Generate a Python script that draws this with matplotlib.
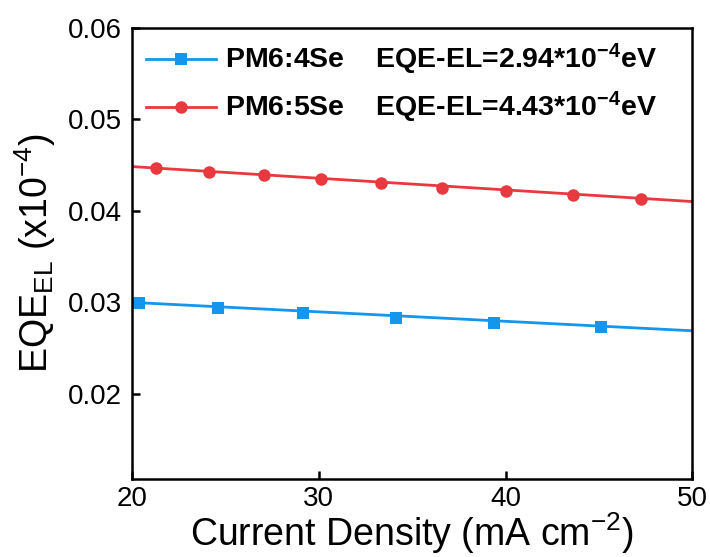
import matplotlib
matplotlib.use("Agg")
import matplotlib.pyplot as plt

plt.rcParams["font.family"] = ["Liberation Sans", "DejaVu Sans"]
plt.rcParams["mathtext.fontset"] = "custom"
plt.rcParams["mathtext.rm"] = "Liberation Sans"
plt.rcParams["mathtext.bf"] = "Liberation Sans:bold"
plt.rcParams["mathtext.it"] = "Liberation Sans:italic"

# PM6:4Se measured points
x_4se = [20.37, 24.6, 29.16, 34.14, 39.39, 45.12]
y_4se = [0.0299, 0.0294, 0.0288, 0.0283, 0.0278, 0.0273]
fit_x_4se = [20, 50]
fit_y_4se = [0.0300, 0.0269]

# PM6:5Se measured points
x_5se = [21.3, 24.1, 27.05, 30.1, 33.34, 36.6, 40.05, 43.62, 47.25]
y_5se = [0.04473, 0.04430, 0.04390, 0.04353, 0.04303, 0.04255, 0.04215,
         0.04172, 0.04131]
fit_x_5se = [20, 50]
fit_y_5se = [0.04484, 0.04102]

C_BLUE, C_RED = "#1496EC", "#E8393F"
LBL_4 = r"PM6:4Se    EQE-EL=2.94*10$^{\mathbf{-4}}$eV"
LBL_5 = r"PM6:5Se    EQE-EL=4.43*10$^{\mathbf{-4}}$eV"

fig = plt.figure(figsize=(7.1, 5.57), dpi=100)
ax = fig.add_axes([0.186, 0.140, 0.789, 0.810])

ax.plot(fit_x_4se, fit_y_4se, "-", color=C_BLUE, lw=2.0)
ax.plot(x_4se, y_4se, "s", color=C_BLUE, ms=8.5, mew=0)
ax.plot(fit_x_5se, fit_y_5se, "-", color=C_RED, lw=2.0)
ax.plot(x_5se, y_5se, "o", color=C_RED, ms=9, mew=0)

# legend proxies: line-marker-line
ax.plot([], [], "-s", color=C_BLUE, lw=2.0, ms=8.5, mew=0, label=LBL_4)
ax.plot([], [], "-o", color=C_RED, lw=2.0, ms=9, mew=0, label=LBL_5)
leg = ax.legend(loc="upper left", frameon=False, handlelength=2.45,
                handletextpad=0.32, labelspacing=0.45, borderpad=0.4,
                borderaxespad=0.1, prop={"weight": "bold", "size": 20.5})

ax.set_xlim(20, 50)
ax.set_ylim(0.0107, 0.06)
ax.set_xticks([20, 30, 40, 50])
ax.set_yticks([0.02, 0.03, 0.04, 0.05, 0.06])
ax.tick_params(direction="in", length=6, width=1.8, labelsize=20, pad=7)
ax.tick_params(axis="x", pad=5)
for s in ax.spines.values():
    s.set_linewidth(1.8)

ax.set_xlabel(r"Current Density (mA cm$^{-2}$)", fontsize=27, labelpad=-1)
ax.set_ylabel(r"EQE$_{\mathrm{EL}}$ (x10$^{-4}$)", fontsize=27, labelpad=7)

fig.savefig("out.png", dpi=100)
